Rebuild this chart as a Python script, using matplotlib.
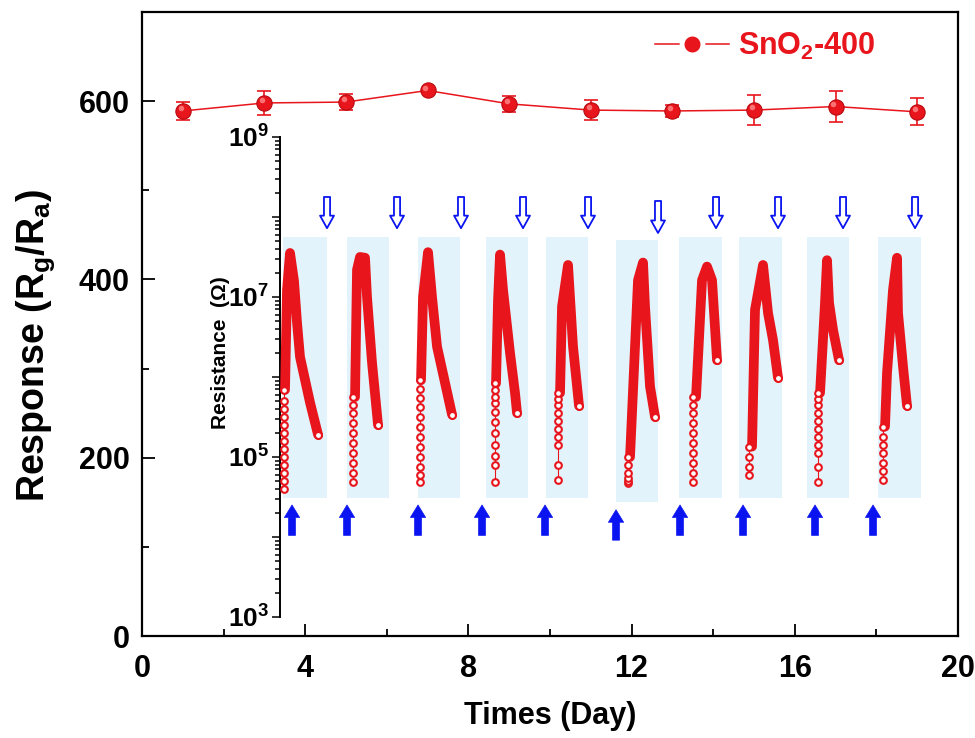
import matplotlib
matplotlib.use("Agg")
import matplotlib.pyplot as plt
import matplotlib.ticker as mticker
import matplotlib.transforms as mtrans
import numpy as np

plt.rcParams["font.family"] = ["Liberation Sans", "DejaVu Sans"]
plt.rcParams["font.weight"] = "bold"
plt.rcParams["mathtext.fontset"] = "custom"
plt.rcParams["mathtext.rm"] = "Liberation Sans"
plt.rcParams["mathtext.bf"] = "Liberation Sans:bold"

RED = "#e8151c"
BLUE = "#0a14f0"
SHADE = "#e2f3fb"

# --- main series: response vs storage time -------------------------------
days = [1, 3, 5, 7, 9, 11, 13, 15, 17, 19]
response = [589, 598, 599, 612, 597, 590, 589, 590, 594, 588]
resp_err = [10, 13, 9, 3, 9, 11, 7, 17, 17, 15]

# --- inset: resistance cycles (time in a.u., log10 R in ohm) --------------
gas_on = [0.3, 6.7, 13.8, 20.6, 26.6, 33.6, 39.9, 45.9, 52.7, 59.8]
gas_off = [4.7, 10.9, 18.0, 24.8, 30.8, 37.8, 44.2, 50.2, 56.9, 64.1]
band_lo = [4.49, 4.49, 4.49, 4.49, 4.49, 4.44, 4.49, 4.49, 4.49, 4.49]
band_hi = [7.75, 7.75, 7.75, 7.75, 7.75, 7.71, 7.75, 7.75, 7.75, 7.75]

# sparse open circles on the rising edge: x, list of log10 R
rise_x = [0.4, 7.3, 14.0, 21.5, 27.8, 34.8, 41.3, 46.9, 53.8, 60.3]
rise_logr = [
    [4.60, 4.70, 4.80, 4.90, 5.00, 5.10, 5.20, 5.30, 5.40, 5.50, 5.60, 5.70, 5.84],
    [4.69, 4.80, 4.92, 5.05, 5.18, 5.30, 5.42, 5.55, 5.65, 5.75],
    [4.69, 4.78, 4.88, 5.00, 5.12, 5.25, 5.38, 5.50, 5.62, 5.74, 5.85, 5.96],
    [4.69, 4.90, 5.01, 5.15, 5.30, 5.44, 5.56, 5.67, 5.75, 5.84, 5.92],
    [4.71, 4.90, 5.15, 5.25, 5.35, 5.45, 5.55, 5.65, 5.72, 5.80],
    [4.67, 4.70, 4.74, 4.80, 4.90, 5.00],
    [4.69, 4.80, 4.92, 5.05, 5.18, 5.30, 5.42, 5.55, 5.65, 5.75],
    [4.78, 4.88, 5.00, 5.13],
    [4.69, 4.88, 5.05, 5.15, 5.25, 5.35, 5.45, 5.55, 5.65, 5.72, 5.80],
    [4.71, 4.82, 4.93, 5.05, 5.15, 5.25, 5.38],
]
# dense part of each response curve: (x, log10 R) from rise top -> peak -> recovery end
curve_x = [
    [0.5, 0.7, 1.0, 1.4, 1.7, 2.0, 3.0, 3.8],
    [7.5, 7.7, 8.0, 8.5, 8.7, 9.2, 9.8],
    [14.1, 14.3, 14.8, 15.2, 15.7, 17.2],
    [21.6, 21.8, 22.0, 22.3, 23.0, 23.5, 23.7],
    [28.0, 28.2, 28.8, 29.3, 29.9],
    [35.0, 35.8, 36.3, 36.5, 37.0, 37.5],
    [41.6, 42.2, 42.7, 43.2, 43.7],
    [47.2, 47.5, 48.3, 48.8, 49.3, 49.8],
    [54.0, 54.5, 54.7, 54.9, 55.3, 55.9],
    [60.5, 60.7, 61.3, 61.7, 61.8, 62.3, 62.7],
]
curve_logr = [
    [5.84, 7.09, 7.55, 7.20, 6.68, 6.25, 5.68, 5.28],
    [5.75, 7.34, 7.50, 7.49, 7.00, 6.18, 5.40],
    [5.96, 7.00, 7.56, 7.00, 6.38, 5.53],
    [5.92, 6.96, 7.53, 7.09, 6.30, 5.80, 5.55],
    [5.80, 6.88, 7.40, 6.38, 5.64],
    [5.00, 7.21, 7.43, 6.88, 5.88, 5.50],
    [5.75, 7.21, 7.38, 7.21, 6.21],
    [5.13, 6.84, 7.40, 6.80, 6.46, 5.99],
    [5.80, 6.93, 7.46, 6.93, 6.59, 6.21],
    [5.38, 6.05, 7.09, 7.49, 6.80, 6.13, 5.64],
]
# arrows: air in (open, pointing down) and gas in (filled, pointing up)
air_x = [4.7, 11.7, 18.1, 24.3, 30.8, 37.8, 43.6, 49.8, 56.3, 63.5]
air_top = [8.25, 8.25, 8.25, 8.25, 8.25, 8.20, 8.25, 8.25, 8.25, 8.25]
air_tip = [7.86, 7.86, 7.86, 7.86, 7.86, 7.80, 7.86, 7.86, 7.86, 7.86]
gas_x = [1.2, 6.7, 13.8, 20.2, 26.5, 33.6, 40.0, 46.3, 53.5, 59.3]
gas_tail = [4.02, 4.02, 4.02, 4.02, 4.02, 3.96, 4.02, 4.02, 4.02, 4.02]
gas_tip = [4.40, 4.40, 4.40, 4.40, 4.40, 4.34, 4.40, 4.40, 4.40, 4.40]

fig = plt.figure(figsize=(9.75, 7.38), dpi=100)
ax = fig.add_axes([0.1456, 0.1382, 0.8369, 0.8455])

ax.errorbar(days, response, yerr=resp_err, fmt="none", ecolor=RED, elinewidth=1.2,
            capsize=5, capthick=1.2, zorder=2)
ax.plot(days, response, "-", color=RED, lw=1.1, zorder=3)
ax.plot(days, response, "o", ms=11, mfc=RED, mec="#b80a10", mew=0.8, zorder=4)
hl = mtrans.offset_copy(ax.transData, fig=fig, x=-1.5, y=2.0, units="points")
ax.plot(days, response, "o", ms=4, mfc="#ff8a8a", mec="none", alpha=0.8, zorder=5,
        transform=hl)
# legend handle: Origin-style line broken around the symbol
ax.plot([], [], "-o", color=RED, lw=1.1, ms=15, mfc=RED, mec="white", mew=3.5,
        label=r"SnO$_\mathbf{2}$-400")

ax.set_xlim(0, 20)
ax.set_ylim(0, 700)
ax.xaxis.set_major_locator(mticker.MultipleLocator(4))
ax.xaxis.set_minor_locator(mticker.MultipleLocator(2))
ax.yaxis.set_major_locator(mticker.FixedLocator([0, 200, 400, 600]))
ax.yaxis.set_minor_locator(mticker.FixedLocator([100, 300, 500]))
ax.tick_params(which="both", direction="in", top=False, right=False, width=1.3,
               labelsize=22)
ax.tick_params(which="major", length=9)
ax.tick_params(which="minor", length=5)
ax.tick_params(axis="x", which="major", pad=13)
ax.tick_params(axis="y", which="major", pad=9)
for s in ax.spines.values():
    s.set_linewidth(1.6)
for t in ax.get_xticklabels() + ax.get_yticklabels():
    t.set_fontweight("bold")
ax.set_xlabel("Times (Day)", fontsize=22, fontweight="bold", labelpad=12)
ax.set_ylabel(r"Response (R$_\mathbf{g}$/R$_\mathbf{a}$)", fontsize=27,
              fontweight="bold")
ax.yaxis.set_label_coords(-0.104, 0.466)

leg = ax.legend(loc="upper right", bbox_to_anchor=(0.914, 0.99), frameon=False,
                handlelength=2.4, handletextpad=0.3, borderaxespad=0.0,
                prop={"weight": "bold", "size": 22})
for txt in leg.get_texts():
    txt.set_color(RED)

# --- inset ---------------------------------------------------------------
ins = fig.add_axes([0.2872, 0.1640, 0.6718, 0.6504])
ins.patch.set_alpha(0)
for k in ("top", "right", "bottom"):
    ins.spines[k].set_visible(False)
ins.spines["left"].set_linewidth(1.4)
ins.set_yscale("log")
ins.set_ylim(1e3, 1e9)
ins.set_xlim(0, 65.5)
ins.xaxis.set_visible(False)
ins.yaxis.set_major_locator(mticker.LogLocator(base=10, numticks=20))
ins.yaxis.set_minor_locator(mticker.LogLocator(base=10, subs=np.arange(2, 10), numticks=20))


def dec_label(v, pos):
    e = int(round(np.log10(v)))
    return r"$\mathbf{10^{%d}}$" % e if e % 2 == 1 else ""


ins.yaxis.set_major_formatter(mticker.FuncFormatter(dec_label))
ins.yaxis.set_minor_formatter(mticker.NullFormatter())
ins.tick_params(which="both", direction="out", width=1.1, labelsize=19, pad=2)
ins.tick_params(which="major", length=6)
ins.tick_params(which="minor", length=3.5)
ins.set_ylabel("Resistance  (Ω)", fontsize=15, fontweight="bold")
ins.yaxis.set_label_coords(-0.076, 0.55)

for i in range(len(gas_on)):
    ins.fill_between([gas_on[i], gas_off[i]], 10 ** band_lo[i], 10 ** band_hi[i],
                     color=SHADE, lw=0, zorder=1)
    ins.plot(curve_x[i], 10 ** np.array(curve_logr[i]), "-", color=RED, lw=7,
             solid_capstyle="round", solid_joinstyle="round", zorder=3)
    ins.plot([rise_x[i]] * len(rise_logr[i]), 10 ** np.array(rise_logr[i]), "-o",
             color=RED, lw=0.8, ms=4.8, mfc="white", mec=RED, mew=1.5, zorder=4)
    ins.plot(curve_x[i][-1], 10 ** curve_logr[i][-1], "o", ms=5, mfc="white", mec=RED,
             mew=1.5, zorder=5)
    ins.annotate("", xy=(air_x[i], 10 ** air_tip[i]), xytext=(air_x[i], 10 ** air_top[i]),
                 arrowprops=dict(arrowstyle="simple,head_length=0.45,head_width=0.5,tail_width=0.22",
                                 fc="white", ec=BLUE, lw=1.3, mutation_scale=20,
                                 shrinkA=0, shrinkB=0))
    ins.annotate("", xy=(gas_x[i], 10 ** gas_tip[i]), xytext=(gas_x[i], 10 ** gas_tail[i]),
                 arrowprops=dict(arrowstyle="simple,head_length=0.45,head_width=0.55,tail_width=0.25",
                                 fc=BLUE, ec=BLUE, lw=0.5, mutation_scale=20,
                                 shrinkA=0, shrinkB=0))

fig.savefig("out.png", dpi=100)
